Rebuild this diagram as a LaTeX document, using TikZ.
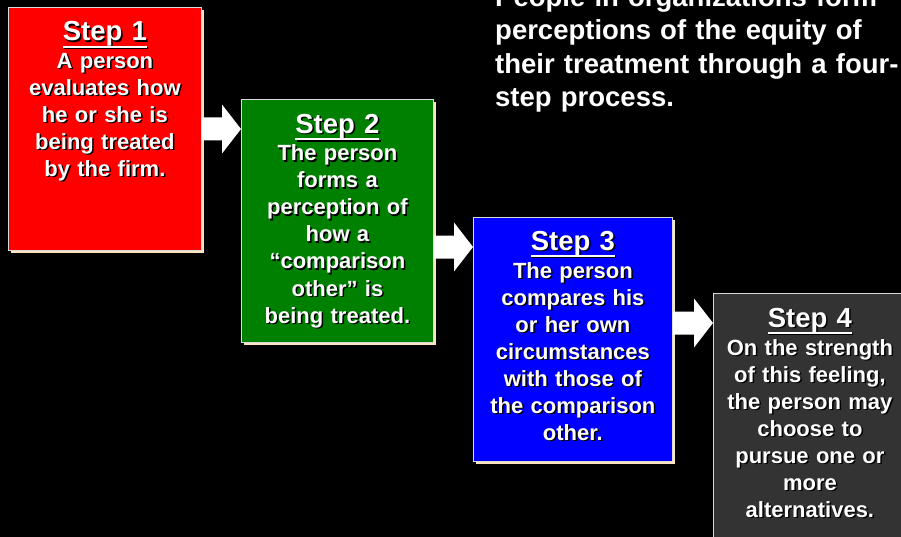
\documentclass[tikz,border=0pt]{standalone}
\usepackage{fontspec}
\setmainfont{Liberation Sans}
\usetikzlibrary{calc,shadows}
\definecolor{shad}{HTML}{FFE4C0}
\definecolor{grayfour}{HTML}{333333}
\definecolor{greentwo}{HTML}{008000}
\newcommand\ulin[1]{\setbox0\hbox{#1}\vtop{\copy0\kern-0.8pt\hrule height 2pt}}
\newcommand\shtext[4]{%
  \node[#2,text=black,xshift=1.5pt,yshift=-1.5pt] (#1sh) at (#3) {#4};
  \node[#2,text=white] (#1) at (#3) {#4};}
\begin{document}
\begin{tikzpicture}[x=1pt,y=-1pt,
  box/.style={draw=white!85!black, line width=0.8pt, minimum width=#1,
    minimum height=243, inner sep=0, anchor=north west,
    general shadow={fill=shad, draw=none, shadow xshift=3pt, shadow yshift=-3pt}},
  ttl/.style={font=\fontsize{27.5}{33}\selectfont\bfseries, anchor=base,
    text width=200, align=center, inner sep=0},
  bdy/.style={font=\fontsize{22}{27}\selectfont\bfseries, anchor=base,
    text width=200, align=center, inner sep=0},
  blockarrow/.style={fill=white, draw=none,
    to path={let \p1=(\tikztostart), \p2=(\tikztotarget) in
      (\x1,\y2+11.5pt) -- (\x2-19pt,\y2+11.5pt) -- (\x2-19pt,\y2+24.5pt)
      -- (\x2,\y2) -- (\x2-19pt,\y2-24.5pt) -- (\x2-19pt,\y2-11.5pt)
      -- (\x1,\y2-11.5pt) -- cycle}}]
\useasboundingbox (0,0) rectangle (901,537);
\fill[black] (0,0) rectangle (901,537);
\clip (0,0) rectangle (901,537);

\node[anchor=base west, text width=420, align=left, inner sep=0,
  font=\fontsize{27.5}{33.5}\selectfont\bfseries, text=white] (head) at (495,6.5)
  {People in organizations form\\perceptions of the equity of\\their treatment through a four-\\step process.};

\node[box=193, fill=red] (s1) at (8,7) {};
\node[box=192, fill=greentwo] (s2) at (241,99) {};
\node[box=199, fill=blue, minimum height=244] (s3) at (473,217) {};
\node[box=193, fill=grayfour, minimum height=250] (s4) at (713,293) {};

\coordinate (p2) at ($(s2.north west)+(0,30)$);
\coordinate (p3) at ($(s3.north west)+(0,30)$);
\coordinate (p4) at ($(s4.north west)+(0,30)$);
\path[blockarrow] (s1.east) to (p2);
\path[blockarrow] (s2.east) to (p3);
\path[blockarrow] (s3.east) to (p4);

\shtext{t1}{ttl}{$(s1.north)+(0,34)$}{\ulin{Step 1}}
\shtext{b1}{bdy}{$(s1.north)+(0,61.5)$}{A person\\evaluates how\\he or she is\\being treated\\by the firm.}
\shtext{t2}{ttl}{$(s2.north)+(0,34.5)$}{\ulin{Step 2}}
\shtext{b2}{bdy}{$(s2.north)+(0,62)$}{The person\\forms a\\perception of\\how a\\“comparison\\other” is\\being treated.}
\shtext{t3}{ttl}{$(s3.north)+(0,33)$}{\ulin{Step 3}}
\shtext{b3}{bdy}{$(s3.north)+(0,61)$}{The person\\compares his\\or her own\\circumstances\\with those of\\the comparison\\other.}
\shtext{t4}{ttl}{$(s4.north)+(0,34)$}{\ulin{Step 4}}
\shtext{b4}{bdy}{$(s4.north)+(0,62)$}{On the strength\\of this feeling,\\the person may\\choose to\\pursue one or\\more\\alternatives.}
\end{tikzpicture}
\end{document}
